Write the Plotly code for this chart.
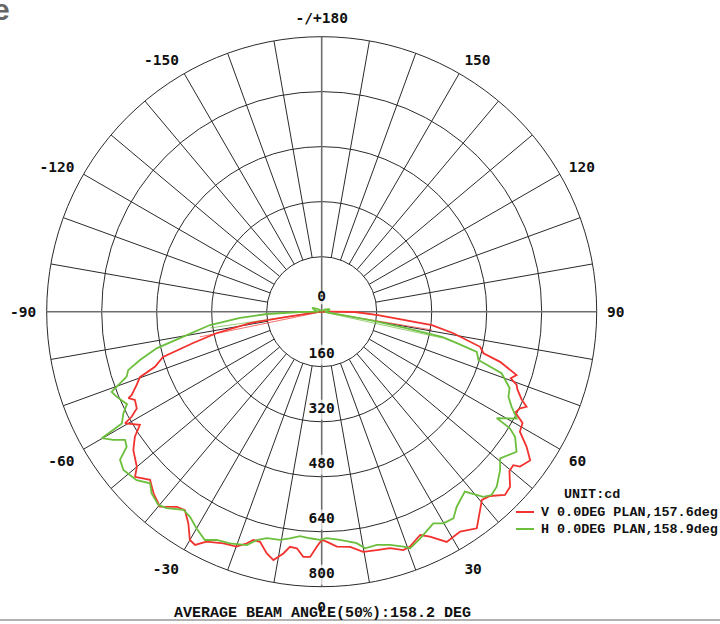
import plotly.graph_objects as go

# ---------------- data ----------------
V_theta = [-180, -120, -95, -90, -81.5, -81.0, -78.5, -76.3, -74.1, -71.7, -70.2, -68.4,
           -66.3, -65.9, -64.7, -62.4, -61.1, -60.4, -58.1, -56.2, -53.7, -50.0, -48.5,
           -45.6, -42.8, -39.7, -36.6, -34.6, -32.2, -30.0, -28.5, -26.6, -23.0, -19.9,
           -17.9, -16.7, -15.0, -12.8, -11.0, -9.0, -7.7, -6.0, -4.3, -2.7, -1.2, 0.0,
           1.2, 3.7, 6.9, 9.8, 13.0, 16.1, 18.9, 20.6, 23.8, 25.7, 28.5, 32.2, 35.6,
           40.4, 42.4, 45.0, 47.1, 49.7, 51.3, 52.0, 54.5, 56.6, 58.8, 61.0, 62.5, 64.0,
           65.1, 66.3, 68.4, 69.4, 70.6, 72.0, 74.3, 75.6, 77.5, 80.7, 83.1, 86.6, 89.5,
           90.5, 95, 180]
V_cd = [0, 0, 0, 3, 102, 211, 311, 385, 480, 511, 562, 579,
        604, 616, 601, 607, 631, 658, 623, 654, 680, 702, 725,
        699, 720, 737, 707, 701, 728, 767, 772, 748, 732, 727,
        708, 693, 693, 721, 736, 712, 690, 692, 715, 714, 684, 664,
        669, 685, 689, 709, 712, 716, 733, 730, 710, 726, 762, 756, 775,
        719, 726, 754, 748, 716, 714, 732, 745, 714, 674, 668, 635, 642,
        657, 635, 612, 606, 583, 596, 539, 486, 472, 388, 323, 164, 97,
        20, 0, 0]

H_theta = [-180, -150, -125, -112, -100, -92, -89.2, -87.6, -85.6, -83.2, -79.8, -77.5,
           -75.1, -73.2, -71.6, -71.0, -69.4, -69.1, -67.5, -64.6, -62.9, -60.8, -60.1,
           -58.4, -56.9, -55.3, -53.7, -51.4, -47.7, -45.0, -43.1, -40.2, -38.3, -34.9,
           -32.7, -30.0, -27.1, -24.7, -21.6, -17.8, -15.9, -13.6, -10.4, -8.0, -5.5,
           -3.0, -0.4, 1.3, 4.6, 8.6, 10.4, 13.3, 16.3, 19.2, 20.5, 23.5, 27.8, 29.9,
           32.5, 34.7, 38.5, 41.1, 42.8, 45.0, 48.4, 50.6, 54.3, 57.1, 58.2, 58.7, 61.3,
           63.4, 65.5, 67.9, 71.1, 72.9, 75.5, 77.2, 78.2, 79.0, 80.0, 88.0, 100, 108,
           125, 150, 180]
H_cd = [2, 3, 15, 30, 20, 8, 63, 159, 238, 327, 409, 492,
        547, 588, 598, 610, 648, 654, 646, 627, 648, 666, 738,
        712, 683, 690, 728, 738, 728, 706, 724, 736, 728, 703,
        709, 728, 746, 731, 725, 713, 691, 678, 675, 666, 656,
        660, 664, 659, 666, 681, 700, 697, 707, 724, 735, 719, 696, 710,
        713, 690, 669, 715, 727, 720, 694, 672, 698, 670, 644, 596, 647,
        618, 597, 590, 553, 477, 466, 393, 357, 250, 150, 10, 20, 25,
        12, 3, 2]

V_chord_theta = [-78.3, 0, 80.6]
V_chord_cd = [362, 0, 325]
H_chord_theta = [-81.7, 0, 77.7]
H_chord_cd = [328, 0, 358]

V_name = "V 0.0DEG PLAN,157.6deg"
H_name = "H 0.0DEG PLAN,158.9deg"
unit_text = "UNIT:cd"
footer_text = "AVERAGE BEAM ANGLE(50%):158.2 DEG"

angular_tick_vals = [0, 30, 60, 90, 120, 150, 180, 210, 240, 270, 300, 330]
angular_tick_text = ["0", "30", "60", "90", "120", "150", "-/+180",
                     "-150", "-120", "-90", "-60", "-30"]
radial_grid_vals = [160, 320, 480, 640, 800]
radial_label_vals = [0, 160, 320, 480, 640, 800]
R_MAX = 800

# ---------------- styling ----------------
RED = "#f2322e"
GREEN = "#6cbf3c"
GRID = "#2a2a2a"
AXIS = "#6e6e6e"
W, H = 720, 624
cx, cy, rad = 321.7, 311.7, 275.0
px_per_cd = rad / R_MAX
TICKFONT = dict(family="DejaVu Sans Mono", size=14.5, color="#111", weight="bold")
MONO = "Liberation Mono"

fig = go.Figure()

# spokes every 10 degrees, starting at the first circle
sp_r, sp_t = [], []
for a in range(10, 360, 10):
    if a % 90 == 0:
        continue
    sp_r += [radial_grid_vals[0], R_MAX, None]
    sp_t += [a, a, None]
fig.add_trace(go.Scatterpolar(r=sp_r, theta=sp_t, mode="lines",
                              line=dict(color=GRID, width=1), hoverinfo="skip",
                              showlegend=False))
# main axes through the centre
ax_r, ax_t = [], []
for a in (0, 90, 180, 270):
    ax_r += [0, R_MAX, None]
    ax_t += [a, a, None]
fig.add_trace(go.Scatterpolar(r=ax_r, theta=ax_t, mode="lines",
                              line=dict(color=AXIS, width=1.6), hoverinfo="skip",
                              showlegend=False))

# thin chord lines
fig.add_trace(go.Scatterpolar(r=V_chord_cd, theta=V_chord_theta, mode="lines",
                              line=dict(color=RED, width=1), opacity=0.7,
                              showlegend=False))
fig.add_trace(go.Scatterpolar(r=H_chord_cd, theta=H_chord_theta, mode="lines",
                              line=dict(color=GREEN, width=1), opacity=0.7,
                              showlegend=False))

# curves
fig.add_trace(go.Scatterpolar(r=V_cd, theta=V_theta, mode="lines", name=V_name,
                              line=dict(color=RED, width=1.8), showlegend=False))
fig.add_trace(go.Scatterpolar(r=H_cd, theta=H_theta, mode="lines", name=H_name,
                              line=dict(color=GREEN, width=1.8), showlegend=False))

# radial value labels with white backing
off = 12 / px_per_cd
lab_r = [14 / px_per_cd if v == 0 else v - off for v in radial_label_vals]
lab_t = [180 if v == 0 else 0 for v in radial_label_vals]
lab_s = [13 if v == 0 else 20 for v in radial_label_vals]
fig.add_trace(go.Scatterpolar(r=lab_r, theta=lab_t, mode="markers+text",
                              text=[str(v) for v in radial_label_vals],
                              textposition="middle center",
                              marker=dict(symbol="square", size=lab_s, color="white",
                                          line=dict(width=0)),
                              textfont=TICKFONT,
                              hoverinfo="skip", showlegend=False, cliponaxis=False))

# legend (drawn as annotations + line samples)
leg_x_line0, leg_x_line1, leg_x_text = 516, 534, 539
leg_rows = [(V_name, RED, 512), (H_name, GREEN, 529)]
annotations = [
    dict(text="<b>%s</b>" % unit_text, x=561.7 / W, y=(H - 494) / H,
         xref="paper", yref="paper", xanchor="left", yanchor="middle",
         showarrow=False, font=dict(family=MONO, size=13.4, color="#111")),
    dict(text="<b>%s</b>" % footer_text, x=322 / W, y=(H - 613) / H,
         xref="paper", yref="paper", xanchor="center", yanchor="middle",
         showarrow=False, font=dict(family=MONO, size=15, color="#111")),
    dict(text="<b>e</b>", x=0, y=1, xref="paper", yref="paper",
         xanchor="left", yanchor="top", xshift=-9, yshift=9, showarrow=False,
         font=dict(family="Liberation Sans", size=30, color="#666")),
]
shapes = [dict(type="line", xref="paper", yref="paper", x0=0, x1=1,
               y0=(H - 620) / H, y1=(H - 620) / H,
               line=dict(color="#999", width=1.5))]
for name, col, yy in leg_rows:
    annotations.append(dict(text="<b>%s</b>" % name, x=leg_x_text / W, y=(H - yy) / H,
                            xref="paper", yref="paper", xanchor="left",
                            yanchor="middle", showarrow=False,
                            font=dict(family=MONO, size=13.4, color="#111")))
    shapes.append(dict(type="line", xref="paper", yref="paper",
                       x0=leg_x_line0 / W, x1=leg_x_line1 / W,
                       y0=(H - yy) / H, y1=(H - yy) / H,
                       line=dict(color=col, width=2)))

fig.update_layout(
    width=W, height=H,
    margin=dict(l=0, r=0, t=0, b=0),
    paper_bgcolor="white",
    showlegend=False,
    polar=dict(
        domain=dict(x=[(cx - rad) / W, (cx + rad) / W],
                    y=[(H - cy - rad) / H, (H - cy + rad) / H]),
        bgcolor="white",
        radialaxis=dict(range=[0, R_MAX], tickvals=radial_grid_vals,
                        showticklabels=False, ticks="", showline=False,
                        gridcolor=GRID, gridwidth=1),
        angularaxis=dict(rotation=270, direction="counterclockwise",
                         tickvals=angular_tick_vals, ticktext=angular_tick_text,
                         showgrid=False, ticks="outside", ticklen=7,
                         tickcolor="rgba(0,0,0,0)", showline=True,
                         linecolor=GRID, linewidth=1, tickfont=TICKFONT),
    ),
    annotations=annotations,
    shapes=shapes,
)

fig.write_html("out.html",
               config={"displayModeBar": False},
               post_script="document.body.style.margin='0';document.body.style.padding='0';")
